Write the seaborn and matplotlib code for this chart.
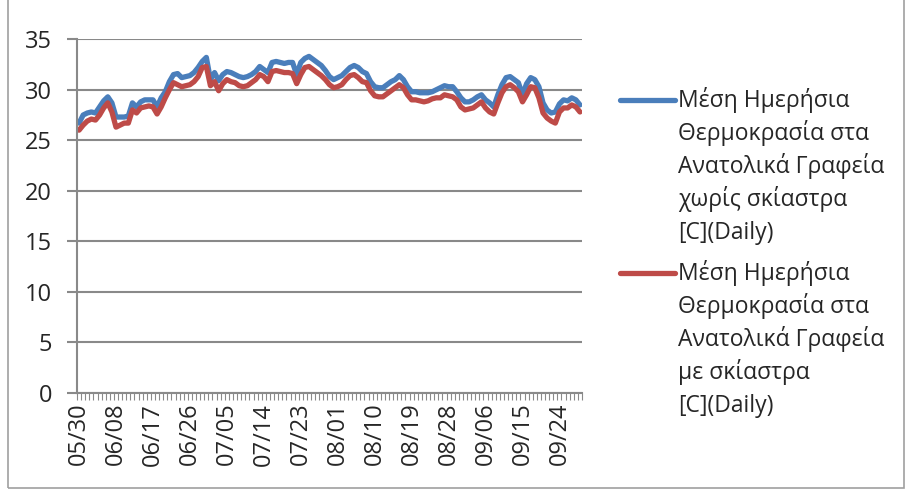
"""
Daily mean temperature, east offices, with / without sunshades
"""
import pandas as pd
import numpy as np
import matplotlib
matplotlib.use("Agg")
import matplotlib.pyplot as plt
from matplotlib.lines import Line2D
from matplotlib.patches import Rectangle
import seaborn as sns

# --- data -------------------------------------------------------------
days = pd.date_range("2013-05-30", "2013-09-29").strftime("%m/%d").tolist()

no_shade = [26.7, 27.5, 27.7, 27.8, 27.7, 28.3, 28.9, 29.3, 28.7, 27.3,
            27.3, 27.3, 27.4, 28.7, 28.3, 28.8, 29.0, 29.0, 29.0, 28.3,
            29.2, 29.8, 30.8, 31.5, 31.6, 31.2, 31.3, 31.4, 31.7, 32.2,
            32.8, 33.2, 31.0, 31.7, 30.9, 31.5, 31.8, 31.7, 31.5, 31.3,
            31.2, 31.3, 31.5, 31.8, 32.3, 32.0, 31.7, 32.7, 32.8, 32.7,
            32.6, 32.7, 32.7, 31.5, 32.7, 33.1, 33.3, 33.0, 32.7, 32.4,
            31.9, 31.3, 31.0, 31.2, 31.4, 31.8, 32.2, 32.4, 32.2, 31.8,
            31.6, 30.8, 30.3, 30.2, 30.2, 30.5, 30.8, 31.0, 31.4, 31.0,
            30.3, 29.8, 29.8, 29.7, 29.7, 29.7, 29.8, 30.0, 30.2, 30.4,
            30.3, 30.3, 29.8, 29.2, 28.8, 28.8, 29.0, 29.3, 29.5, 29.0,
            28.7, 28.3, 29.5, 30.5, 31.2, 31.3, 31.0, 30.7, 29.5, 30.6,
            31.2, 31.0, 30.3, 28.7, 28.0, 27.7, 27.8, 28.6, 29.0, 28.9,
            29.2, 29.0, 28.5]

with_shade = [26.0, 26.5, 26.9, 27.1, 27.0, 27.5, 28.2, 28.7, 27.8, 26.3,
              26.5, 26.7, 26.7, 28.0, 27.7, 28.2, 28.3, 28.4, 28.3, 27.6,
              28.3, 29.2, 30.0, 30.7, 30.5, 30.3, 30.4, 30.5, 30.8, 31.3,
              32.2, 32.3, 30.4, 30.8, 29.9, 30.6, 31.0, 30.8, 30.7, 30.4,
              30.3, 30.4, 30.7, 31.0, 31.5, 31.3, 30.8, 31.8, 31.9, 31.8,
              31.7, 31.7, 31.6, 30.6, 31.5, 32.2, 32.3, 32.0, 31.7, 31.4,
              31.0, 30.5, 30.2, 30.3, 30.5, 31.0, 31.4, 31.5, 31.2, 30.8,
              30.7, 29.9, 29.4, 29.3, 29.3, 29.6, 29.9, 30.2, 30.5, 30.2,
              29.5, 29.0, 29.0, 28.9, 28.8, 28.9, 29.1, 29.2, 29.2, 29.5,
              29.4, 29.3, 29.0, 28.3, 28.0, 28.1, 28.2, 28.5, 28.8, 28.2,
              27.8, 27.6, 28.7, 29.7, 30.3, 30.5, 30.2, 29.8, 28.8, 29.5,
              30.3, 30.2, 29.2, 27.7, 27.2, 26.9, 26.7, 27.8, 28.2, 28.2,
              28.5, 28.3, 27.8]

labels = [["Μέση Ημερήσια", "Θερμοκρασία στα", "Ανατολικά Γραφεία",
           "χωρίς σκίαστρα", "[C](Daily)"],
          ["Μέση Ημερήσια", "Θερμοκρασία στα", "Ανατολικά Γραφεία",
           "με σκίαστρα", "[C](Daily)"]]
colors = ["#4A7EBB", "#BE4B48"]

# --- style ------------------------------------------------------------
sns.set_style("white")
plt.rcParams["font.family"] = ["Open Sans", "DejaVu Sans"]
grid_col = "#898989"

df = pd.DataFrame({"idx": np.arange(len(days)), "day": days,
                   "a": no_shade, "b": with_shade})

fig = plt.figure(figsize=(9.07, 4.90), dpi=100)
ax = fig.add_axes([0.0849, 0.198, 0.5568, 0.722])

for col, c in zip(["a", "b"], colors):
    sns.lineplot(data=df, x="idx", y=col, color=c, linewidth=3.8, ax=ax,
                 solid_joinstyle="round", solid_capstyle="round")

ax.set_xlim(-0.5, len(days) - 0.5)
ax.set_ylim(0, 35)
ax.set_yticks(np.arange(0, 36, 5))
ax.yaxis.grid(True, color=grid_col, linewidth=1.5)
ax.set_axisbelow(True)

# category axis: labels every 9 days, tick marks between categories
ax.set_xticks(np.arange(0, len(days), 9))
ax.set_xticklabels(days[::9], rotation=90)
ax.set_xticks(np.arange(-0.5, len(days), 1), minor=True)
ax.tick_params(axis="x", which="major", length=0, pad=7, labelsize=17)
ax.tick_params(axis="x", which="minor", length=5, width=0.8, color=grid_col,
               direction="out", bottom=True)
ax.tick_params(axis="y", length=7, width=1.5, color=grid_col, left=True,
               labelsize=17, pad=11)
ax.set_xlabel("")
ax.set_ylabel("")

for s in ["top", "right"]:
    ax.spines[s].set_visible(False)
for s in ["left", "bottom"]:
    ax.spines[s].set_color(grid_col)
    ax.spines[s].set_linewidth(1.5)

# legend drawn by hand to get Excel-like wrapping (one text per line)
W, H = 907, 490
for i, (lines, c) in enumerate(zip(labels, colors)):
    y0 = 100 + i * 173
    fig.add_artist(Line2D([620 / W, 675 / W], [1 - y0 / H, 1 - y0 / H],
                          color=c, linewidth=3.8, solid_capstyle="round"))
    for k, txt in enumerate(lines):
        fig.text(678 / W, 1 - (y0 + 7 + 33 * k) / H, txt, fontsize=16.5,
                 va="baseline", ha="left")

# chart-area border
fig.add_artist(Rectangle((8 / W, 2 / H), 896 / W, 1.2, transform=fig.transFigure,
                         fill=False, edgecolor="#a0a0a0", linewidth=1.2))

plt.savefig("out.png", dpi=100)
